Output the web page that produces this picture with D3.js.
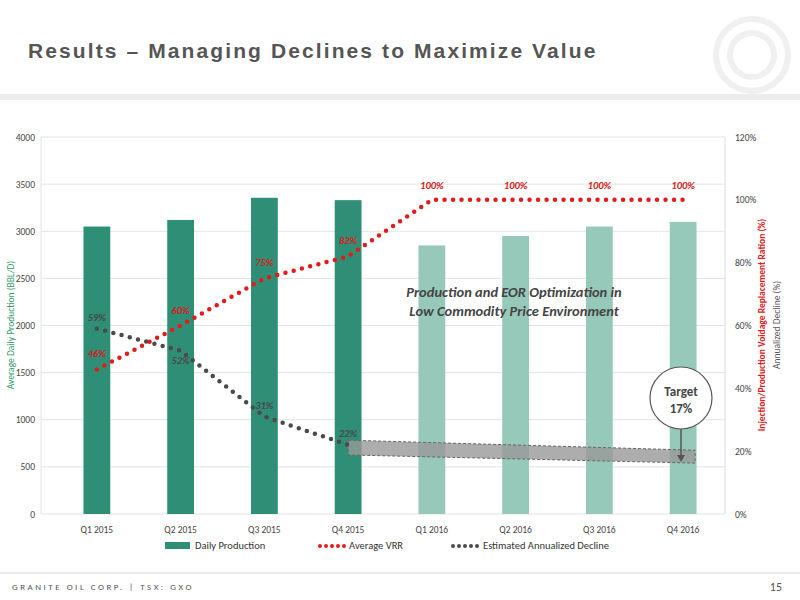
<!DOCTYPE html>
<html>
<head>
<script src="https://d3js.org/d3.v7.min.js"></script>
<style>
body{margin:0;background:#fff;font-family:"Open Sans",Calibri,sans-serif;}
svg text{font-family:Calibri,"Open Sans",sans-serif;}
.axis text{font-size:9.5px;fill:#444;}
.axis path,.axis line{stroke:none;}
</style>
</head>
<body>
<svg id="c" width="800" height="600"></svg>
<script>
var categories=["Q1 2015","Q2 2015","Q3 2015","Q4 2015","Q1 2016","Q2 2016","Q3 2016","Q4 2016"];
var production=[3050,3120,3355,3330,2850,2950,3050,3100];
var vrr=[46,60,75,82,100,100,100,100];
var decline=[59,52,31,22];
var bandTop=[23.5,20.3];
var bandBottom=[18.8,16.2];

var svg=d3.select("#c");
// header
svg.append("text").attr("x",28).attr("y",58).text("Results \u2013 Managing Declines to Maximize Value")
  .style("font-family","Liberation Sans,Arial,sans-serif").style("font-weight","bold").style("font-size","21px").style("fill","#555").style("letter-spacing","2.1px");
svg.append("rect").attr("x",0).attr("y",94).attr("width",800).attr("height",6).attr("fill","#ececec");
svg.append("circle").attr("cx",752).attr("cy",55).attr("r",36).attr("fill","none").attr("stroke","#f0f0f0").attr("stroke-width",6);
svg.append("circle").attr("cx",752).attr("cy",55).attr("r",22).attr("fill","none").attr("stroke","#f0f0f0").attr("stroke-width",6);
// footer
svg.append("rect").attr("x",0).attr("y",572).attr("width",800).attr("height",2).attr("fill","#ececec");
svg.append("text").attr("x",12).attr("y",590).text("GRANITE OIL CORP. | TSX: GXO").style("font-size","9px").style("letter-spacing","2.5px").style("fill","#555");
svg.append("text").attr("x",782).attr("y",591).attr("text-anchor","end").text("15").style("font-size","12px").style("fill","#555");

var L=41,R=725,T=137,B=514;
var x=d3.scaleBand().domain(categories).range([55,R]).paddingInner(0.68).paddingOuter(0.34);
var xc=function(i){return x(categories[i])+x.bandwidth()/2;};
var y=d3.scaleLinear().domain([0,4000]).range([B,T]);
var y2=d3.scaleLinear().domain([0,120]).range([B,T]);

svg.append("g").selectAll("line").data(y.ticks(8)).join("line")
  .attr("x1",L).attr("x2",R).attr("y1",y).attr("y2",y).attr("stroke","#e3e3e3");
svg.append("line").attr("x1",R).attr("x2",R).attr("y1",T).attr("y2",B).attr("stroke","#ddd");
svg.append("line").attr("x1",L).attr("x2",L).attr("y1",T).attr("y2",B).attr("stroke","#e3e3e3");

svg.append("g").attr("class","axis").attr("transform","translate("+L+",0)").call(d3.axisLeft(y).ticks(8).tickSize(0).tickPadding(6).tickFormat(d3.format("d")));
svg.append("g").attr("class","axis").attr("transform","translate("+R+",0)").call(d3.axisRight(y2).ticks(6).tickSize(0).tickPadding(10).tickFormat(function(d){return d+"%";}));
svg.append("g").attr("class","axis").attr("transform","translate(0,"+B+")").call(d3.axisBottom(x).tickSize(0).tickPadding(12));

svg.append("g").selectAll("rect").data(production).join("rect")
  .attr("x",function(d,i){return x(categories[i]);}).attr("width",x.bandwidth())
  .attr("y",y).attr("height",function(d){return B-y(d);})
  .attr("fill",function(d,i){return i<4?"#2e8f76":"#97c9bb";});

// projected decline band
var bx=[xc(3),xc(7)+12];
var area=[[bx[0],y2(bandTop[0])],[bx[1],y2(bandTop[1])],[bx[1],y2(bandBottom[1])],[bx[0],y2(bandBottom[0])]];
svg.append("path").attr("d","M"+area.join("L")+"Z").attr("fill","#999").attr("fill-opacity",0.8)
  .attr("stroke","#666").attr("stroke-dasharray","3,2");

function dotted(vals,color){
  svg.append("path").datum(vals).attr("fill","none").attr("stroke",color).attr("stroke-width",4.5)
    .attr("stroke-linecap","round").attr("stroke-dasharray","0,8.5")
    .attr("d",d3.line().x(function(d,i){return xc(i);}).y(function(d){return y2(d);}));
}
dotted(decline,"#4a4a4a");
dotted(vrr,"#e31b1b");

svg.append("g").selectAll("text").data(vrr).join("text")
  .attr("x",function(d,i){return xc(i);}).attr("y",function(d){return y2(d)-(d==100?11:12);})
  .attr("text-anchor","middle").text(function(d){return d+"%";})
  .style("font-size","10.5px").style("font-weight","bold").style("font-style","italic").style("fill","#d42020");
svg.append("g").selectAll("text").data(decline).join("text")
  .attr("x",function(d,i){return xc(i);}).attr("y",function(d,i){return y2(d)+(i==1?13:-8);})
  .attr("text-anchor","middle").text(function(d){return d+"%";})
  .style("font-size","10.5px").style("font-weight","bold").style("font-style","italic").style("fill","#4a4a4a");

svg.append("text").attr("x",514).attr("y",297).attr("text-anchor","middle").text("Production and EOR Optimization in")
  .style("font-size","14.5px").style("font-weight","bold").style("font-style","italic").style("fill","#444");
svg.append("text").attr("x",514).attr("y",316).attr("text-anchor","middle").text("Low Commodity Price  Environment")
  .style("font-size","14.5px").style("font-weight","bold").style("font-style","italic").style("fill","#444");

// target callout
svg.append("line").attr("x1",681).attr("x2",681).attr("y1",428).attr("y2",457).attr("stroke","#555").attr("stroke-width",1.5);
svg.append("path").attr("d","M677,455L681,462L685,455Z").attr("fill","#555");
svg.append("circle").attr("cx",681).attr("cy",398).attr("r",31).attr("fill","#fff").attr("stroke","#555").attr("stroke-width",1.2);
svg.append("text").attr("x",681).attr("y",396).attr("text-anchor","middle").text("Target").style("font-size","13px").style("font-weight","bold").style("fill","#444");
svg.append("text").attr("x",681).attr("y",413).attr("text-anchor","middle").text("17%").style("font-size","13px").style("font-weight","bold").style("fill","#444");

svg.append("text").attr("transform","translate(14,325) rotate(-90)").attr("text-anchor","middle")
  .text("Average Daily Production (BBL/D)").style("font-size","9.5px").style("fill","#2e9a6a");
svg.append("text").attr("transform","translate(765,325) rotate(-90)").attr("text-anchor","middle")
  .text("Injection/Production Voidage Replacement Ration (%)").style("font-size","9.5px").style("font-weight","bold").style("fill","#e02020");
svg.append("text").attr("transform","translate(780,325) rotate(-90)").attr("text-anchor","middle")
  .text("Annualized Decline (%)").style("font-size","9.5px").style("fill","#555");

// legend
var lg=svg.append("g").style("font-size","10.5px").style("fill","#333");
lg.append("rect").attr("x",165).attr("y",542).attr("width",25).attr("height",7).attr("fill","#2e8f76");
lg.append("text").attr("x",195).attr("y",549).text("Daily Production");
lg.append("line").attr("x1",320).attr("x2",345).attr("y1",546).attr("y2",546).attr("stroke","#e31b1b").attr("stroke-width",4).attr("stroke-linecap","round").attr("stroke-dasharray","0,6");
lg.append("text").attr("x",349).attr("y",549).text("Average VRR");
lg.append("line").attr("x1",453).attr("x2",478).attr("y1",546).attr("y2",546).attr("stroke","#4a4a4a").attr("stroke-width",4).attr("stroke-linecap","round").attr("stroke-dasharray","0,6");
lg.append("text").attr("x",483).attr("y",549).text("Estimated Annualized Decline");
</script>
</body>
</html>
